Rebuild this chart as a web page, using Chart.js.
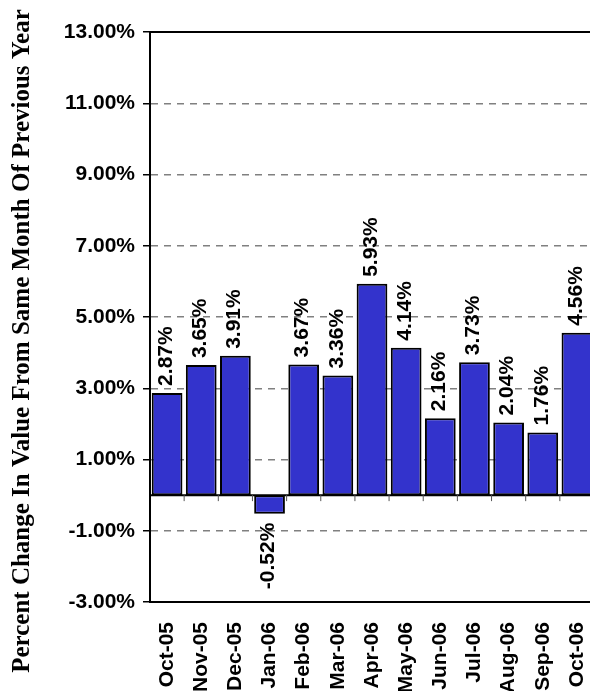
<!DOCTYPE html>
<html>
<head>
<meta charset="utf-8">
<script src="https://cdn.jsdelivr.net/npm/chart.js@4.4.0/dist/chart.umd.min.js"></script>
<style>
  html, body { margin: 0; padding: 0; background: #fff; overflow: hidden; }
  #wrap { width: 600px; height: 691px; }
</style>
</head>
<body>
<div id="wrap"><canvas id="grafico" width="600" height="691"></canvas></div>
<script>
// dados do gráfico
const meses = ['Oct-05', 'Nov-05', 'Dec-05', 'Jan-06', 'Feb-06', 'Mar-06', 'Apr-06',
               'May-06', 'Jun-06', 'Jul-06', 'Aug-06', 'Sep-06', 'Oct-06'];
const variacao = [2.87, 3.65, 3.91, -0.52, 3.67, 3.36, 5.93, 4.14, 2.16, 3.73, 2.04, 1.76, 4.56];
const eixoY = { min: -3, max: 13, passo: 2 };
const tituloY = 'Percent Change In Value From Same Month Of Previous Year';

const fonteArial = 'Liberation Sans, Arial, sans-serif';

// linhas extras: topo, linha do zero e marcas das categorias
const linhasExtras = {
    id: 'linhasExtras',
    afterDatasetsDraw(chart) {
        const { ctx, chartArea, scales } = chart;
        const y0 = scales.y.getPixelForValue(0);
        ctx.save();
        ctx.strokeStyle = '#000';
        ctx.lineWidth = 2;
        ctx.beginPath();
        ctx.moveTo(chartArea.left, chartArea.top);
        ctx.lineTo(chartArea.right, chartArea.top);
        ctx.moveTo(chartArea.left, y0);
        ctx.lineTo(chartArea.right, y0);
        ctx.stroke();

        // marcas entre as categorias, abaixo do zero
        ctx.lineWidth = 1;
        ctx.strokeStyle = '#555';
        const meio = (scales.x.getPixelForValue(1) - scales.x.getPixelForValue(0)) / 2;
        ctx.beginPath();
        for (let i = 0; i < meses.length; i++) {
            const xb = scales.x.getPixelForValue(i) + meio;
            ctx.moveTo(xb, y0);
            ctx.lineTo(xb, y0 + 6);
        }
        ctx.stroke();
        ctx.restore();
    }
};

// rótulos de valor girados
const rotulosValor = {
    id: 'rotulosValor',
    afterDatasetsDraw(chart) {
        const { ctx } = chart;
        const meta = chart.getDatasetMeta(0);
        ctx.save();
        ctx.fillStyle = '#000';
        ctx.font = 'bold 21px ' + fonteArial;
        ctx.textBaseline = 'middle';
        meta.data.forEach((barra, i) => {
            const v = variacao[i];
            const texto = v.toFixed(2) + '%';
            ctx.save();
            if (v >= 0) {
                ctx.translate(barra.x - 1, barra.y - 7);
                ctx.rotate(-Math.PI / 2);
                ctx.textAlign = 'left';
            } else {
                ctx.translate(barra.x - 1, barra.y + 9);
                ctx.rotate(-Math.PI / 2);
                ctx.textAlign = 'right';
            }
            ctx.fillText(texto, 0, 0);
            ctx.restore();
        });
        ctx.restore();
    }
};

// título do eixo Y
const tituloEixo = {
    id: 'tituloEixo',
    afterDraw(chart) {
        const { ctx } = chart;
        ctx.save();
        ctx.fillStyle = '#000';
        ctx.font = 'bold 25px Liberation Serif, Times New Roman, serif';
        ctx.textAlign = 'center';
        ctx.textBaseline = 'middle';
        ctx.translate(23, 341);
        ctx.rotate(-Math.PI / 2);
        ctx.fillText(tituloY, 0, 0);
        ctx.restore();
    }
};

const ctx = document.getElementById('grafico');
new Chart(ctx, {
    type: 'bar',
    data: {
        labels: meses,
        datasets: [{
            data: variacao,
            backgroundColor: '#3333CC',
            borderColor: '#000',
            borderWidth: 2,
            borderSkipped: false,
            barPercentage: 0.9,
            categoryPercentage: 1.0
        }]
    },
    options: {
        responsive: false,
        animation: false,
        layout: { padding: { top: 32, right: 6, left: 0, bottom: 0 } },
        plugins: {
            legend: { display: false },
            tooltip: { enabled: false }
        },
        scales: {
            y: {
                min: eixoY.min,
                max: eixoY.max,
                afterFit(scale) { scale.width = 150; },
                ticks: {
                    stepSize: eixoY.passo,
                    padding: 8,
                    color: '#000',
                    font: { family: fonteArial, size: 21, weight: 'bold' },
                    callback: v => v.toFixed(2) + '%'
                },
                grid: {
                    color: c => (c.tick && (c.tick.value === eixoY.min || c.tick.value === eixoY.max)) ? 'rgba(0,0,0,0)' : '#808080',
                    lineWidth: 1.5,
                    tickColor: '#000',
                    tickLength: 7,
                    tickBorderDash: []
                },
                border: { display: true, color: '#000', width: 2, dash: [7, 6] }
            },
            x: {
                afterFit(scale) {
                    scale.height = 89;
                    scale.paddingLeft = 0;
                    scale.paddingRight = 0;
                },
                ticks: {
                    maxRotation: 90,
                    minRotation: 90,
                    padding: 12,
                    color: '#000',
                    font: { family: fonteArial, size: 21, weight: 'bold' }
                },
                grid: { display: false },
                border: { display: true, color: '#000', width: 2 }
            }
        }
    },
    plugins: [linhasExtras, rotulosValor, tituloEixo]
});
</script>
</body>
</html>
